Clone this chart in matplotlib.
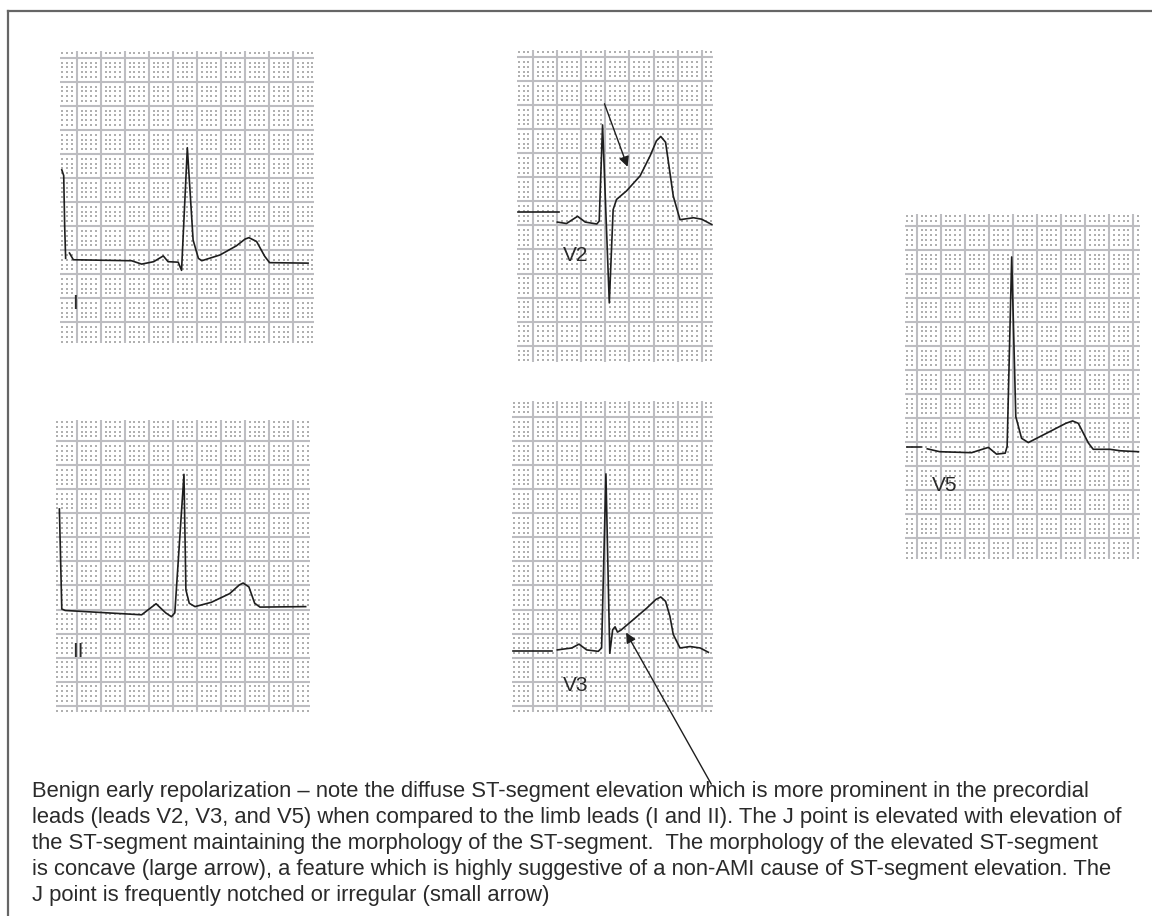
import numpy as np
import matplotlib
matplotlib.use('Agg')
import matplotlib.pyplot as plt
from matplotlib.lines import Line2D

plt.rcParams['font.family'] = ['Liberation Sans', 'DejaVu Sans']

W, H = 1152, 916
U = 4.81  # pixels per small square

# ECG traces, in small-square units (x = time, y = amplitude)
lead_I_cal_x = [-3.1, -2.7, -2.5, -2.3]
lead_I_cal_y = [31.7, 30.5, 20.0, 13.3]
lead_I_x = [-1.5, -0.7, 11.4, 13.5, 16.0, 18.0, 19.0, 21.1, 21.8, 23.0, 24.2, 25.3, 26.0,
            29.8, 33.2, 35.0, 35.8, 37.4, 39.1, 40.1, 48.1]
lead_I_y = [14.4, 13.0, 12.8, 12.1, 12.6, 13.8, 12.6, 12.5, 10.8, 36.3, 17.1, 13.3, 12.8,
            14.0, 15.9, 17.3, 17.6, 16.8, 13.7, 12.4, 12.3]

lead_II_x = [-3.6, -3.1, -2.4, 13.5, 16.5, 18.5, 19.7, 20.4, 22.3, 22.7, 23.4, 24.6, 28.0,
             31.8, 33.8, 34.6, 35.8, 37.0, 38.1, 47.6]
lead_II_y = [40.9, 20.1, 19.8, 18.9, 21.2, 19.3, 18.5, 19.3, 48.1, 24.1, 21.3, 20.6, 21.5,
             23.3, 25.1, 25.5, 24.7, 21.3, 20.5, 20.6]

lead_V2_ref_x = [-3.1, 5.4]
lead_V2_ref_y = [27.9, 27.9]
lead_V2_x = [5.0, 6.9, 9.2, 10.8, 13.2, 13.7, 14.4, 15.8, 16.6, 17.3, 19.4, 22.2, 24.3,
             25.6, 26.5, 27.5, 28.4, 29.1, 30.5, 33.3, 35.0, 37.1]
lead_V2_y = [25.7, 25.4, 26.9, 25.7, 25.3, 25.9, 45.9, 8.9, 28.3, 30.4, 32.2, 35.3, 39.5,
             42.6, 43.5, 42.3, 36.0, 31.1, 26.2, 26.6, 26.3, 25.2]
arrow_V2_tail = (14.8, 50.3)
arrow_V2_head = (19.6, 37.2)

lead_V3_ref_x = [-4.2, 3.8]
lead_V3_ref_y = [11.4, 11.4]
lead_V3_x = [5.0, 8.0, 9.5, 11.1, 13.5, 14.2, 15.1, 15.9, 16.5, 17.0, 17.5, 18.2, 20.8,
             23.6, 25.5, 26.5, 27.5, 28.4, 29.1, 30.5, 32.6, 34.7, 36.4]
lead_V3_y = [11.6, 12.0, 12.8, 11.6, 11.3, 12.0, 48.2, 10.9, 15.8, 16.4, 15.3, 15.7, 17.9,
             20.3, 22.1, 22.6, 21.7, 18.6, 14.8, 12.0, 12.3, 12.0, 11.1]
arrow_V3_tail = (37.0, -16.3)
arrow_V3_head = (19.3, 15.2)

lead_V5_ref_x = [-2.1, 0.8]
lead_V5_ref_y = [19.0, 19.0]
lead_V5_x = [2.2, 4.8, 11.4, 14.9, 16.6, 18.4, 18.8, 19.75, 20.6, 21.8, 23.2, 27.7, 31.0,
             32.4, 33.6, 35.7, 36.7, 40.2, 42.3, 46.1]
lead_V5_y = [18.6, 18.0, 17.8, 18.9, 17.5, 17.7, 19.1, 58.5, 25.3, 20.8, 19.9, 22.2, 23.9,
             24.4, 23.9, 19.8, 18.5, 18.5, 18.2, 18.0]

lead_names = ['I', 'II', 'V2', 'V3', 'V5']
label_x = [-0.45, 0.2, 8.8, 8.8, 5.8]
label_y = [4.0, 11.2, 18.7, 4.3, 11.0]

caption = ("Benign early repolarization \u2013 note the diffuse ST-segment elevation which is more prominent in the precordial\n"
           "leads (leads V2, V3, and V5) when compared to the limb leads (I and II). The J point is elevated with elevation of\n"
           "the ST-segment maintaining the morphology of the ST-segment.  The morphology of the elevated ST-segment\n"
           "is concave (large arrow), a feature which is highly suggestive of a non-AMI cause of ST-segment elevation. The\n"
           "J point is frequently notched or irregular (small arrow)")

# panel placement: pixel position of unit (0, 0) and extent in units
panels = {
    'I':  dict(x0=76.7, y0=322.3, xlim=(-3.4, 49.4), ylim=(-4.4, 56.4)),
    'II': dict(x0=76.7, y0=705.7, xlim=(-4.4, 48.4), ylim=(-1.4, 59.4)),
    'V2': dict(x0=533.3, y0=345.7, xlim=(-3.4, 37.4), ylim=(-3.4, 61.4)),
    'V3': dict(x0=533.3, y0=705.7, xlim=(-4.4, 37.4), ylim=(-1.4, 63.4)),
    'V5': dict(x0=916.7, y0=538.3, xlim=(-2.4, 46.4), ylim=(-4.4, 67.4)),
}

fig = plt.figure(figsize=(W / 100, H / 100), dpi=100)
fig.patch.set_facecolor('white')

trace_kw = dict(color='#1e1e1e', lw=1.2, solid_joinstyle='round', zorder=5)
axes = {}
for name in lead_names:
    p = panels[name]
    x0, x1 = p['xlim']
    y0, y1 = p['ylim']
    left = (p['x0'] + x0 * U) / W
    bottom = (H - (p['y0'] - y0 * U)) / H
    ax = fig.add_axes([left, bottom, (x1 - x0) * U / W, (y1 - y0) * U / H])
    ax.set_xlim(x0, x1)
    ax.set_ylim(y0, y1)
    for s in ax.spines.values():
        s.set_visible(False)
    ax.set_xticks(np.arange(np.ceil(x0 / 5) * 5, x1, 5))
    ax.set_yticks(np.arange(np.ceil(y0 / 5) * 5, y1, 5))
    ax.tick_params(length=0, labelbottom=False, labelleft=False)
    ax.grid(True, color='#bdbdc1', lw=1.5, zorder=1)
    ax.set_axisbelow(True)
    # small-square dots at the minor grid crossings
    gx, gy = np.meshgrid(np.arange(np.ceil(x0), x1), np.arange(np.ceil(y0), y1))
    ax.scatter(gx.ravel(), gy.ravel(), s=0.7, marker='s', color='#b0b0b0', linewidths=0, zorder=0.5)
    axes[name] = ax

axes['I'].plot(lead_I_cal_x, lead_I_cal_y, **trace_kw)
axes['I'].plot(lead_I_x, lead_I_y, **trace_kw)
axes['II'].plot(lead_II_x, lead_II_y, **trace_kw)
axes['V2'].plot(lead_V2_ref_x, lead_V2_ref_y, **trace_kw)
axes['V2'].plot(lead_V2_x, lead_V2_y, **trace_kw)
axes['V3'].plot(lead_V3_ref_x, lead_V3_ref_y, **trace_kw)
axes['V3'].plot(lead_V3_x, lead_V3_y, **trace_kw)
axes['V5'].plot(lead_V5_ref_x, lead_V5_ref_y, **trace_kw)
axes['V5'].plot(lead_V5_x, lead_V5_y, **trace_kw)

arrow_kw = dict(arrowstyle='-|>', color='#1e1e1e', lw=1.0, mutation_scale=15, shrinkA=0, shrinkB=0)
axes['V2'].annotate('', xy=arrow_V2_head, xytext=arrow_V2_tail, arrowprops=arrow_kw,
                    annotation_clip=False, zorder=6)
axes['V3'].annotate('', xy=arrow_V3_head, xytext=arrow_V3_tail, arrowprops=arrow_kw,
                    annotation_clip=False, zorder=6)

for name, lx, ly in zip(lead_names, label_x, label_y):
    axes[name].text(lx, ly, name, fontsize=15, color='#2a2a2a', ha='center', va='center', zorder=6)

# open frame (top and left edges)
fig.add_artist(Line2D([8 / W, 1.0], [1 - 11 / H, 1 - 11 / H], color='#666666', lw=1.6))
fig.add_artist(Line2D([8 / W, 8 / W], [1 - 11 / H, 0.0], color='#666666', lw=1.6))

fig.text(32 / W, 1 - 781 / H, caption, fontsize=15.8, color='#2a2a2a', ha='left', va='top',
         linespacing=1.31)

fig.savefig('out.png', dpi=100, facecolor='white')
